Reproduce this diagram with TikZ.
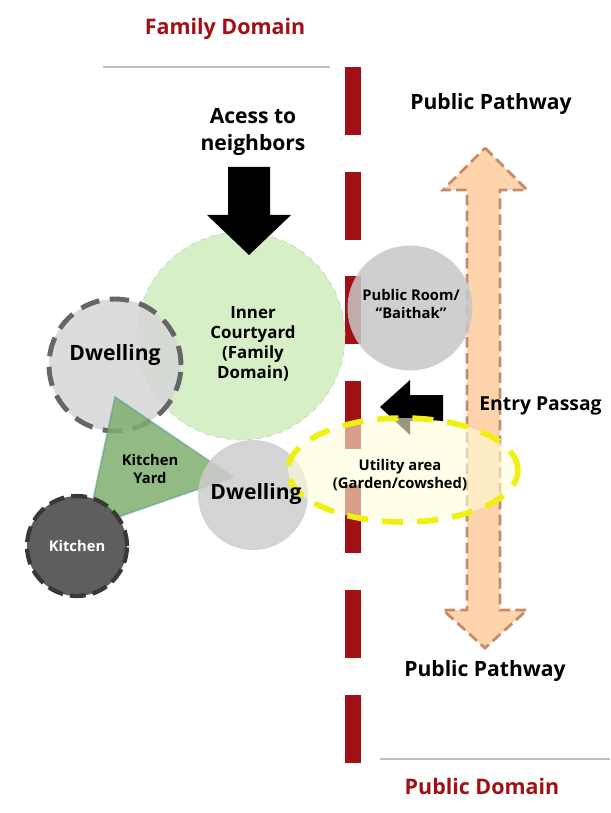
\documentclass[tikz,border=0pt]{standalone}
\usepackage{fontspec}
\setmainfont{Open Sans}
\usetikzlibrary{positioning, shapes.geometric}

\definecolor{wallred}{HTML}{A01015}
\definecolor{courtgreen}{HTML}{D3EDC0}
\definecolor{yardgreen}{HTML}{7FAE6E}
\definecolor{yardedge}{HTML}{4E9A8C}
\definecolor{roomgray}{HTML}{D6D6D6}
\definecolor{pathorange}{HTML}{FDD4AC}
\definecolor{pathedge}{HTML}{C48D6A}
\definecolor{utilyellow}{HTML}{EFEF10}

\tikzset{
  room/.style={circle, inner sep=0pt, align=center},
  heading/.style={font=\bfseries\fontsize{12.2}{14}\selectfont, text=wallred},
  bigtext/.style={font=\bfseries\fontsize{12}{15}\selectfont, align=center},
  smalltext/.style={font=\bfseries\fontsize{8.4}{10.5}\selectfont, align=center}
}

\begin{document}
\begin{tikzpicture}[x=0.02cm, y=-0.02cm]
  \useasboundingbox (0,0) rectangle (610,813);
  \clip (0,0) rectangle (610,813);

  % family / public boundary
  \foreach \y in {67,172,276,381,485,590,695}
    \fill[wallred] (345,\y) rectangle (361,\y+68);
  \draw[black!25, line width=0.6pt] (103,67) -- (330,67);
  \draw[black!25, line width=0.6pt] (380,759) -- (610,759);

  % entry passage
  \filldraw[fill=pathorange, draw=pathedge, line width=1.6pt, dash pattern=on 6pt off 3pt]
    (485,148) -- (527,190) -- (500,190) -- (500,610) -- (527,610) -- (485,648)
    -- (443,610) -- (467,610) -- (467,190) -- (443,190) -- cycle;

  % rooms
  \node[room, minimum size=4.16cm, fill=courtgreen, fill opacity=0.9,
        draw=green!40!black!25, dashed] (courtyard) at (241,336) {};
  \node[room, minimum size=2.64cm, fill=roomgray, fill opacity=0.85,
        draw=black!60, line width=2.8pt, dash pattern=on 11pt off 6pt] (dwellA) at (115,365) {};
  \fill[yardgreen, opacity=0.85] (115,397) -- (233,477) -- (87,528) -- cycle;
  \draw[yardedge, opacity=0.5, line width=1pt] (115,397) -- (233,477) -- (87,528) -- cycle;
  \node[room, minimum size=2.2cm, fill=black!20, fill opacity=0.85] (dwellB) at (253,495) {};
  \node[room, minimum size=2cm, fill=black!63, draw=black!78,
        line width=2.4pt, dash pattern=on 9pt off 4pt] (kitchen) at (77,546) {};
  \node[room, minimum size=2.5cm, fill=black!22, fill opacity=0.85] (publicroom) at (410,308) {};

  % access arrows
  \fill[black] (228,167) -- (270,167) -- (270,215) -- (291,215) -- (249,255)
    -- (207,215) -- (228,215) -- cycle;
  \fill[black] (443,395) -- (443,421) -- (410,421) -- (410,435) -- (380,407)
    -- (410,380) -- (410,395) -- cycle;

  % utility area
  \node[ellipse, minimum width=4.6cm, minimum height=2.08cm, inner sep=0pt,
        fill=yellow!15, fill opacity=0.6, draw=utilyellow, line width=3.2pt,
        dash pattern=on 12pt off 8pt] (utility) at (403,470) {};

  % labels
  \node[heading] (famdomain) at (225,29) {Family Domain};
  \node[heading] (pubdomain) at (482,786) {Public Domain};
  \node[bigtext] (pathtop) at (491,104) {Public Pathway};
  \node[bigtext] (pathbottom) at (485,671) {Public Pathway};
  \node[bigtext] (access) at (253,132) {Acess to\\neighbors};
  \node[bigtext, font=\bfseries\fontsize{11}{13}\selectfont, anchor=west, inner xsep=0pt]
    (entry) at (479,406) {Entry Passag};
  \node[smalltext, font=\bfseries\fontsize{9.6}{11.5}\selectfont]
    at ([shift={(12,8)}]courtyard) {Inner\\Courtyard\\(Family\\Domain)};
  \node[bigtext] at ([shift={(0,-10)}]dwellA) {Dwelling};
  \node[bigtext] at ([shift={(3,-1)}]dwellB) {Dwelling};
  \node[smalltext] at (150,469) {Kitchen\\Yard};
  \node[smalltext, text=white] at (kitchen) {Kitchen};
  \node[smalltext] at ([shift={(1,-4)}]publicroom) {Public Room/\\``Baithak''};
  \node[smalltext] at ([shift={(-3,5)}]utility) {Utility area\\(Garden/cowshed)};
\end{tikzpicture}
\end{document}
